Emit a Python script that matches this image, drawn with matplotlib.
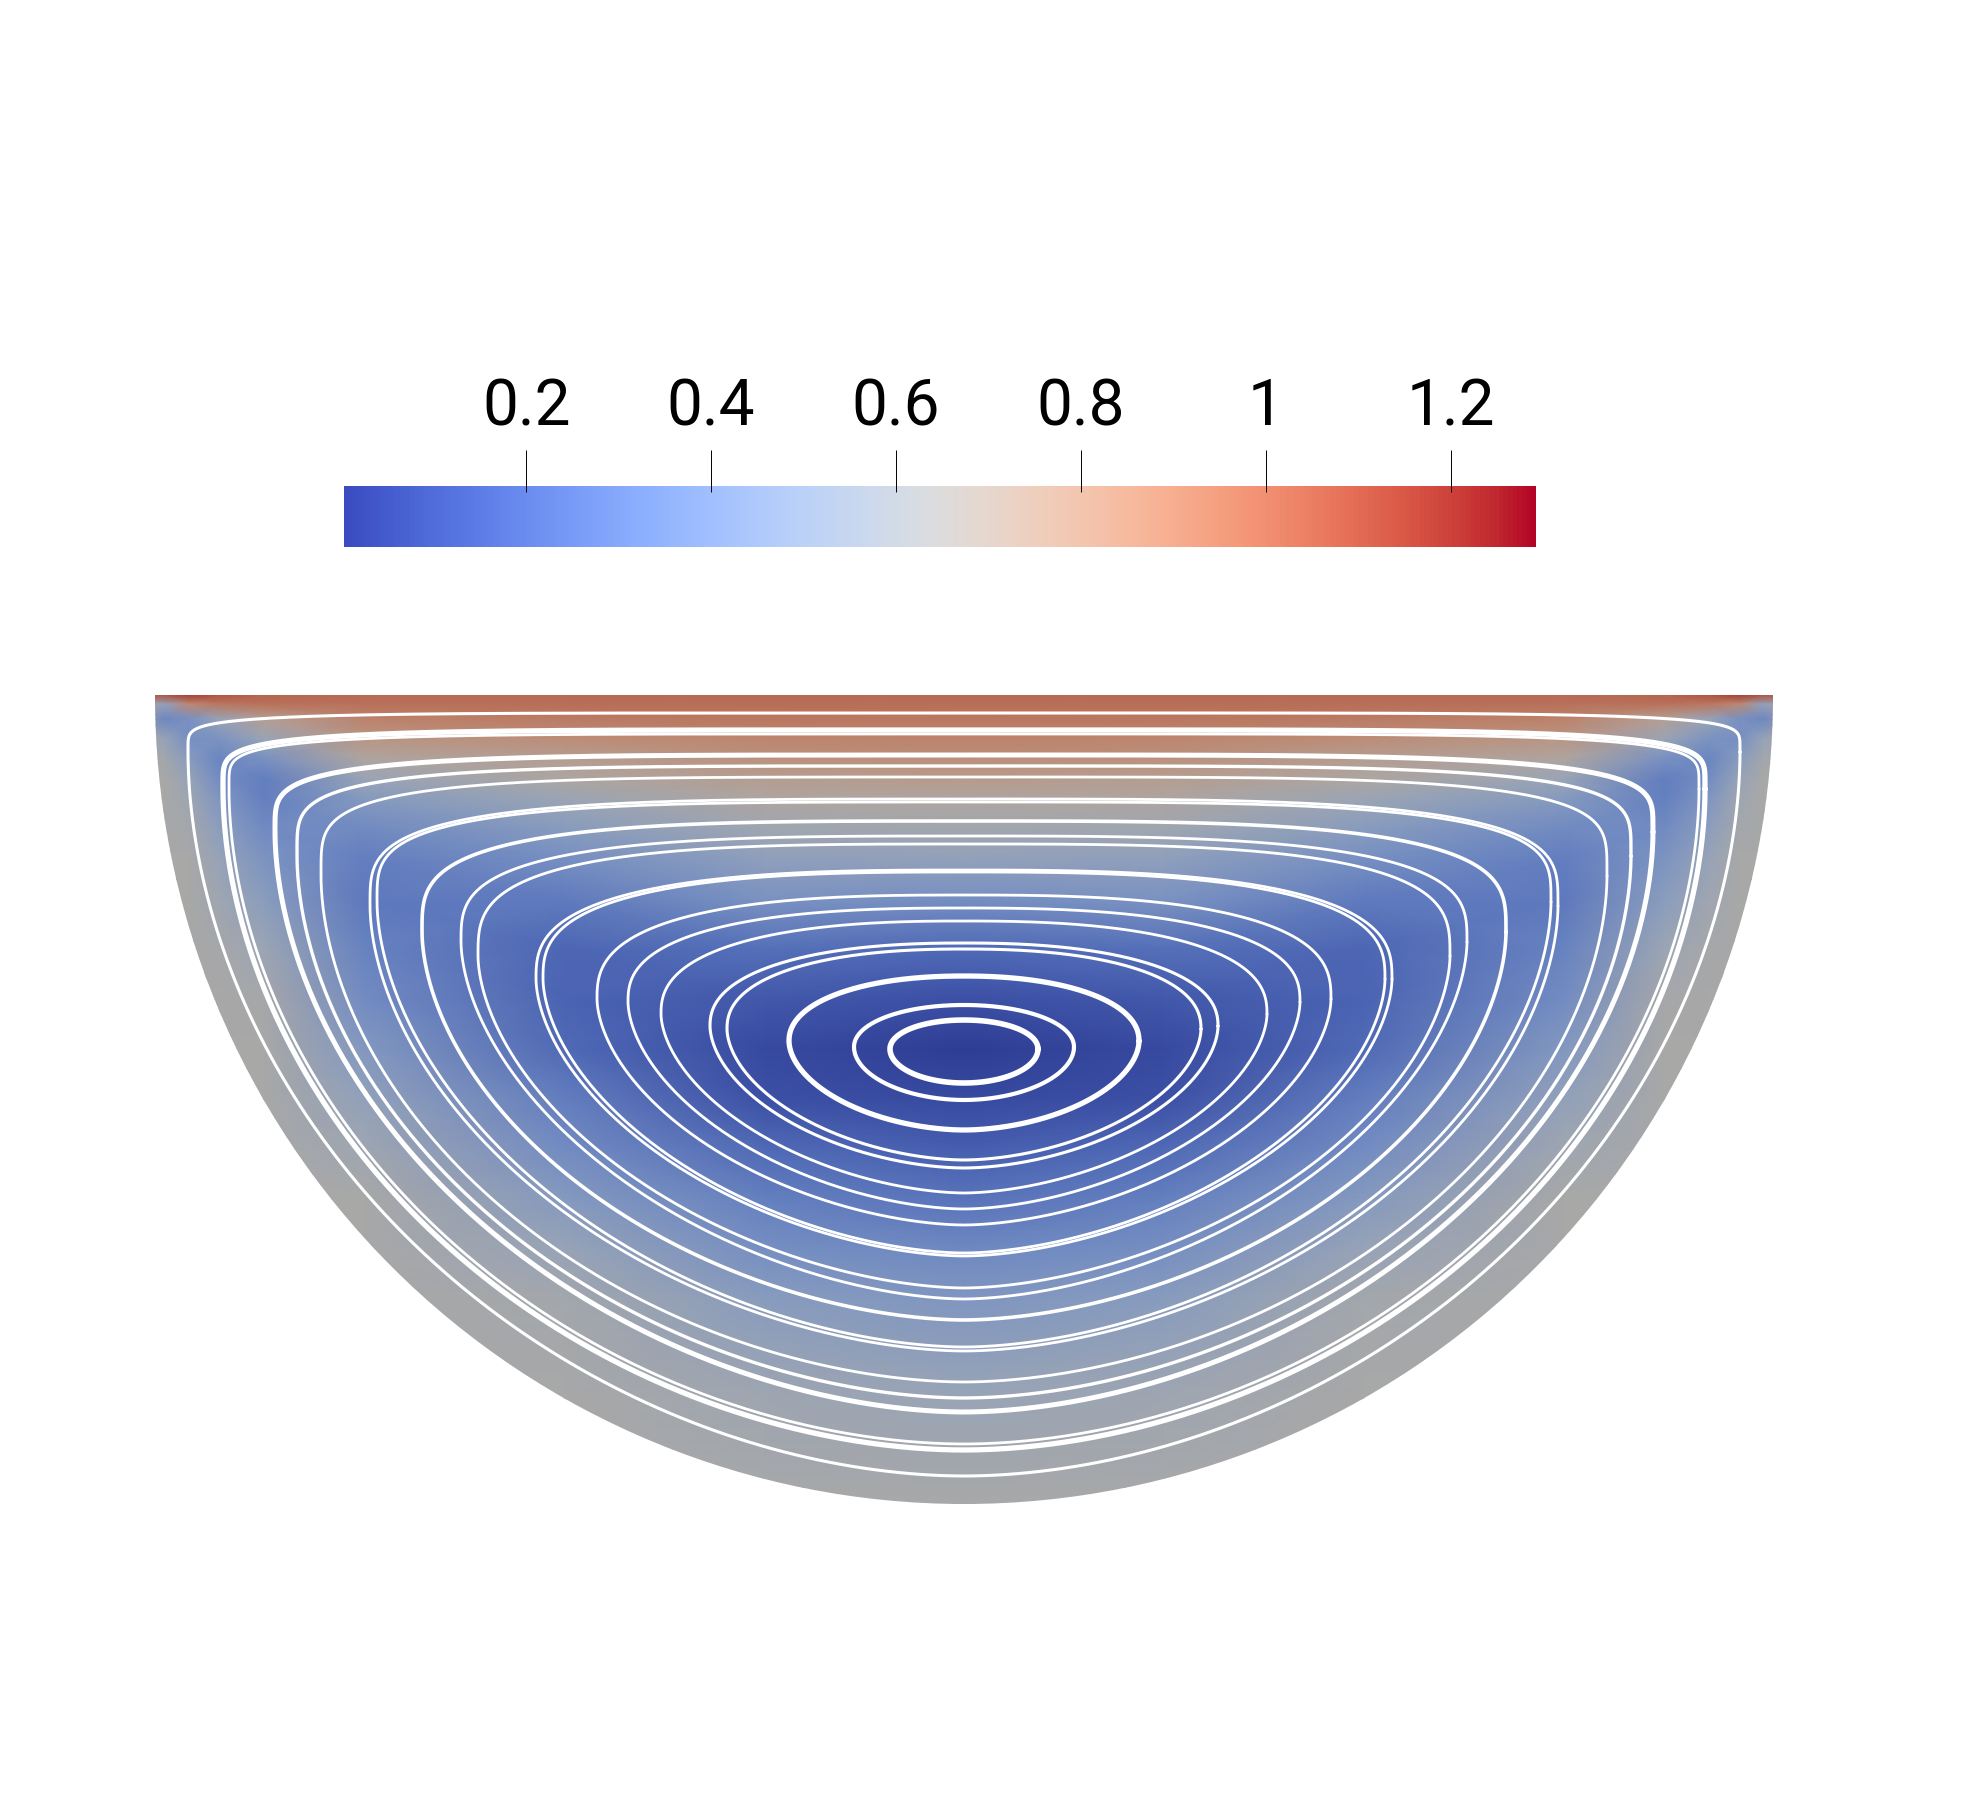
"""
Vitesse dans une cavite semi-circulaire : champ + lignes de courant
"""

import numpy as np
import matplotlib.pyplot as plt
from matplotlib.colors import ListedColormap
from matplotlib.patches import Wedge

# -------------------------------------------------------
# Donnees (pixels de l'image 1988x1808)
# -------------------------------------------------------

center_x = 964
lid_y = 696
radius = 809

# position dans la palette (0-1) sur une grille, moitie gauche
field_dx = [0, 200, 400, 600, 700, 745, 775, 800, 830]
field_y = [696, 705, 720, 740, 760, 780, 800, 830, 860, 900, 950, 1000, 1050,
           1100, 1150, 1200, 1250, 1300, 1400, 1510]
field_pos = [
    [0.78, 0.78, 0.78, 0.78, 0.80, 0.84, 0.90, 0.84, 0.82],
    [0.77, 0.77, 0.77, 0.76, 0.76, 0.74, 0.68, 0.40, 0.60],
    [0.74, 0.74, 0.73, 0.70, 0.57, 0.42, 0.30, 0.26, 0.58],
    [0.70, 0.69, 0.66, 0.62, 0.43, 0.31, 0.30, 0.42, 0.54],
    [0.65, 0.64, 0.58, 0.53, 0.30, 0.25, 0.36, 0.48, 0.50],
    [0.60, 0.58, 0.52, 0.43, 0.22, 0.28, 0.42, 0.50, 0.50],
    [0.53, 0.53, 0.44, 0.35, 0.23, 0.33, 0.46, 0.50, 0.50],
    [0.47, 0.46, 0.36, 0.27, 0.27, 0.38, 0.48, 0.50, 0.50],
    [0.40, 0.39, 0.29, 0.22, 0.32, 0.42, 0.50, 0.50, 0.50],
    [0.29, 0.31, 0.21, 0.20, 0.37, 0.46, 0.50, 0.50, 0.50],
    [0.15, 0.17, 0.14, 0.24, 0.44, 0.49, 0.50, 0.50, 0.50],
    [0.07, 0.09, 0.13, 0.28, 0.49, 0.50, 0.50, 0.50, 0.50],
    [0.01, 0.05, 0.15, 0.34, 0.50, 0.50, 0.50, 0.50, 0.50],
    [0.05, 0.07, 0.22, 0.40, 0.50, 0.50, 0.50, 0.50, 0.50],
    [0.11, 0.15, 0.28, 0.46, 0.50, 0.50, 0.50, 0.50, 0.50],
    [0.18, 0.23, 0.35, 0.50, 0.50, 0.50, 0.50, 0.50, 0.50],
    [0.26, 0.29, 0.42, 0.50, 0.50, 0.50, 0.50, 0.50, 0.50],
    [0.33, 0.36, 0.48, 0.50, 0.50, 0.50, 0.50, 0.50, 0.50],
    [0.43, 0.46, 0.50, 0.50, 0.50, 0.50, 0.50, 0.50, 0.50],
    [0.50, 0.50, 0.50, 0.50, 0.50, 0.50, 0.50, 0.50, 0.50],
]

# lignes de courant, de l'exterieur vers le centre
line_top = [714, 731, 735, 756, 767, 778, 800, 803, 822, 837, 845, 871, 873,
            896, 909, 922, 944, 950, 977, 1006, 1021]
line_bottom = [1477, 1451, 1445, 1413, 1399, 1383, 1352, 1348, 1321, 1300, 1289,
               1257, 1254, 1226, 1210, 1194, 1169, 1161, 1131, 1101, 1084]
line_left = [188, 223, 229, 275, 297, 321, 370, 377, 422, 461, 478, 536, 543,
             597, 628, 661, 710, 727, 789, 854, 890]
line_mid = [753, 790, 790, 833, 857, 877, 907, 903, 933, 943, 957, 980, 980,
            1000, 1003, 1015, 1027, 1030, 1042, 1048, 1050]
shape_top = [5.5, 5, 5, 4.3, 4.3, 4.2, 3.6, 3.6, 3.4, 3.2, 3.2, 2.8, 2.8, 2.7,
             2.55, 2.45, 2.3, 2.3, 2.15, 2.05, 2.05]
shape_bottom = [1.9, 1.9, 1.9, 1.85, 1.85, 1.85, 1.8, 1.8, 1.8, 1.75, 1.75,
                1.75, 1.75, 1.75, 1.75, 1.75, 1.8, 1.8, 1.85, 1.95, 2.0]
line_width = [2.2, 3.8, 2.0, 3.6, 2.4, 2.0, 2.0, 2.0, 2.6, 2.0, 2.0, 2.0, 2.0,
              2.0, 2.0, 2.0, 2.2, 2.2, 3.8, 3.0, 4.0]

# barre de couleur
tick_values = [0.2, 0.4, 0.6, 0.8, 1.0, 1.2]
tick_labels = ["0.2", "0.4", "0.6", "0.8", "1", "1.2"]
bar_min = 0.003
bar_max = 1.292

# -------------------------------------------------------
# Figure
# -------------------------------------------------------

fig = plt.figure(figsize=(19.88, 18.08), dpi=100)
ax = fig.add_axes([0, 0, 1, 1])
ax.set_xlim(0, 1988)
ax.set_ylim(1808, 0)
ax.axis("off")

# le champ est assombri par l'eclairage de la vue 3D
base = plt.get_cmap("coolwarm")(np.arange(256) / 255)
base[:, :3] = base[:, :3] * 0.76
field_cmap = ListedColormap(base)

# -------------------------------------------------------
# Champ, symetrique par rapport a l'axe vertical
# -------------------------------------------------------

half = np.array(field_pos)
values = np.hstack([half[:, :0:-1], half])
xs = np.r_[center_x - np.array(field_dx[:0:-1]), center_x + np.array(field_dx)]
X, Y = np.meshgrid(xs, field_y)

disc = Wedge((center_x, lid_y), radius, 0, 180, transform=ax.transData,
             facecolor="none", edgecolor="none")
ax.add_patch(disc)
mesh = ax.pcolormesh(X, Y, values, cmap=field_cmap, vmin=0, vmax=1,
                     shading="gouraud")
mesh.set_clip_path(disc)

# -------------------------------------------------------
# Lignes de courant
# -------------------------------------------------------

t = np.linspace(0, 2 * np.pi, 1200)
for i in range(len(line_top)):
    half_w = center_x - line_left[i]
    up = np.sin(t) >= 0
    power_x = np.where(up, 2 / shape_top[i], 2 / shape_bottom[i])
    px = center_x + half_w * np.sign(np.cos(t)) * np.abs(np.cos(t)) ** power_x
    height = np.where(up, line_mid[i] - line_top[i], line_bottom[i] - line_mid[i])
    py = line_mid[i] - np.sign(np.sin(t)) * height * np.abs(np.sin(t)) ** power_x
    ax.plot(px, py, color="white", lw=line_width[i], solid_capstyle="round")

# -------------------------------------------------------
# Barre de couleur
# -------------------------------------------------------

cax = fig.add_axes([344 / 1988, 1 - 548 / 1808, (1536 - 344) / 1988, 61 / 1808])
gradient = np.linspace(0, 1, 256).reshape(1, -1)
cax.imshow(gradient, cmap="coolwarm", aspect="auto",
           extent=[bar_min, bar_max, 0, 1], interpolation="nearest")
cax.set_xlim(bar_min, bar_max)
cax.set_ylim(0, 1)
cax.set_yticks([])
for side in cax.spines.values():
    side.set_visible(False)
cax.xaxis.tick_top()
cax.set_xticks(tick_values)
cax.set_xticklabels(tick_labels, fontsize=46, family="Roboto", fontweight="normal",
                    color="black")
cax.tick_params(axis="x", length=0, pad=35)
cax.vlines(tick_values, 0.9, 1.59, color="black", lw=0.7, clip_on=False)

plt.savefig("out.png", dpi=100)
